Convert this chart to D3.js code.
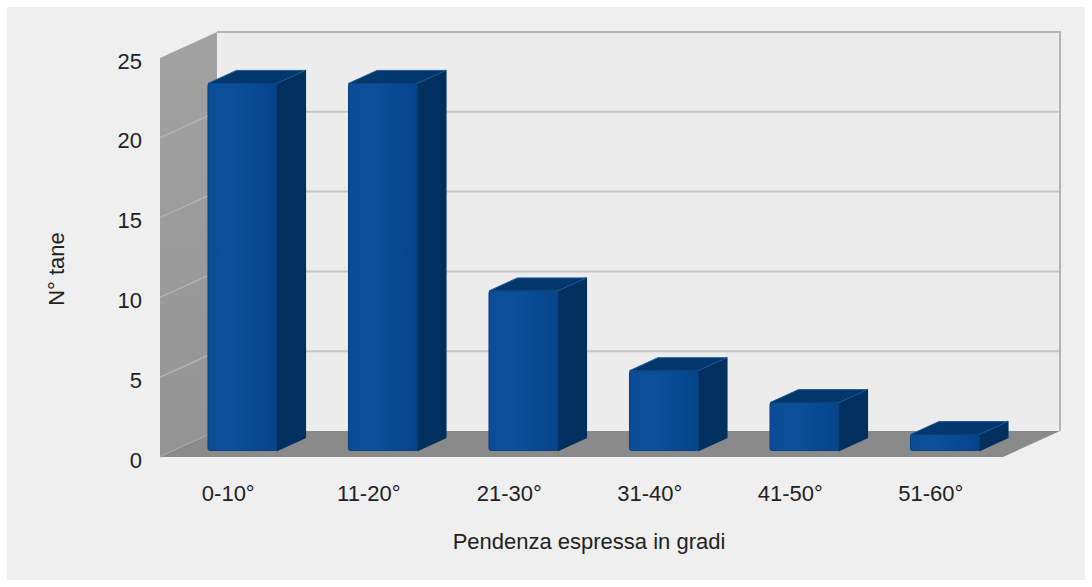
<!DOCTYPE html>
<html>
<head>
<meta charset="utf-8">
<script src="https://cdn.jsdelivr.net/npm/d3@7"></script>
<style>
  html, body { margin: 0; padding: 0; background: #ffffff; }
  svg { display: block; }
  text { font-family: "Liberation Sans", Arial, sans-serif; fill: #222; }
</style>
</head>
<body>
<script>
// Tane per classe di pendenza
const categories = ["0-10°", "11-20°", "21-30°", "31-40°", "41-50°", "51-60°"];
const values = [23, 23, 10, 5, 3, 1];
const yTicks = [0, 5, 10, 15, 20, 25];
const yTitle = "N° tane";
const xTitle = "Pendenza espressa in gradi";

const W = 1092, H = 587;
const svg = d3.select("body").append("svg").attr("width", W).attr("height", H);

// panel background
svg.append("rect").attr("x", 7).attr("y", 7).attr("width", W - 14).attr("height", H - 14)
  .attr("fill", "#efefef");

// front plane scales
const y = d3.scaleLinear().domain([0, 25]).range([457, 58]);
const x = d3.scaleBand().domain(categories).range([160, 1003]);

// oblique depth vector (z = 0 front, z = 1 back wall)
const DX = 57, DY = -26;
const P = (px, v, z) => [px + z * DX, y(v) + z * DY];
const poly = pts => "M" + pts.map(p => p.join(",")).join("L") + "Z";

const defs = svg.append("defs");
const gFront = defs.append("linearGradient").attr("id", "gFront").attr("x1", 0).attr("x2", 1).attr("y1", 0).attr("y2", 0);
gFront.append("stop").attr("offset", "0").attr("stop-color", "#0a4c95");
gFront.append("stop").attr("offset", "0.35").attr("stop-color", "#0b5099");
gFront.append("stop").attr("offset", "1").attr("stop-color", "#05448a");
const gWall = defs.append("linearGradient").attr("id", "gWall").attr("x1", 0).attr("x2", 0).attr("y1", 0).attr("y2", 1);
gWall.append("stop").attr("offset", "0").attr("stop-color", "#a2a2a2");
gWall.append("stop").attr("offset", "1").attr("stop-color", "#939393");

const [x0, x1] = x.range();

// back wall
svg.append("path")
  .attr("d", poly([P(x0, 0, 1), P(x1, 0, 1), P(x1, 25, 1), P(x0, 25, 1)]))
  .attr("fill", "#ececec");
// back wall gridlines
svg.append("g").selectAll("line").data(yTicks.filter(t => t > 0 && t < 25)).join("line")
  .attr("x1", P(x0, 0, 1)[0]).attr("x2", P(x1, 0, 1)[0])
  .attr("y1", d => P(x0, d, 1)[1]).attr("y2", d => P(x0, d, 1)[1])
  .attr("stroke", "#c4c4c4").attr("stroke-width", 2);
// back wall frame (top and right)
svg.append("path")
  .attr("d", "M" + P(x0, 25, 1).join(",") + "L" + P(x1, 25, 1).join(",") + "L" + P(x1, 0, 1).join(","))
  .attr("fill", "none").attr("stroke", "#b4b4b4").attr("stroke-width", 2);

// left wall
svg.append("path")
  .attr("d", poly([P(x0, 0, 0), P(x0, 0, 1), P(x0, 25, 1), P(x0, 25, 0)]))
  .attr("fill", "url(#gWall)");
svg.append("g").selectAll("line").data(yTicks.filter(t => t < 25)).join("line")
  .attr("x1", d => P(x0, d, 0)[0]).attr("y1", d => P(x0, d, 0)[1])
  .attr("x2", d => P(x0, d, 1)[0]).attr("y2", d => P(x0, d, 1)[1])
  .attr("stroke", "#b3b3b3").attr("stroke-width", 1.5);

// floor
svg.append("path")
  .attr("d", poly([P(x0, 0, 0), P(x1, 0, 0), P(x1, 0, 1), P(x0, 0, 1)]))
  .attr("fill", "#8a8a8a");

// bars (3D boxes)
const zf = 0.25, zb = 0.75;
const bw = x.bandwidth() * 0.49, boff = x.bandwidth() * 0.24;
const bars = svg.append("g").selectAll("g").data(categories.map((c, i) => ({ c, v: values[i] }))).join("g");
bars.each(function (d) {
  const g = d3.select(this);
  const l = x(d.c) + boff, r = l + bw;
  // side face
  g.append("path")
    .attr("d", poly([P(r, 0, zf), P(r, 0, zb), P(r, d.v, zb), P(r, d.v, zf)]))
    .attr("fill", "#01305f").attr("stroke", "#01305f").attr("stroke-width", 1.5).attr("stroke-linejoin", "round");
  // top face
  g.append("path")
    .attr("d", poly([P(l, d.v, zf), P(r, d.v, zf), P(r, d.v, zb), P(l, d.v, zb)]))
    .attr("fill", "#02376c").attr("stroke", "#1d5c9e").attr("stroke-width", 1).attr("stroke-linejoin", "round");
  // front face
  const [fx, fy] = P(l, d.v, zf);
  const [, by] = P(l, 0, zf);
  g.append("rect")
    .attr("x", fx).attr("y", fy).attr("width", bw).attr("height", by - fy)
    .attr("rx", 2)
    .attr("fill", "url(#gFront)").attr("stroke", "#0a3f7a").attr("stroke-width", 1);
});

// y axis labels
const yAxis = svg.append("g").attr("transform", "translate(160,3)")
  .call(d3.axisLeft(y).tickValues(yTicks).tickSize(0).tickPadding(18));
yAxis.select(".domain").remove();
yAxis.selectAll("text").attr("font-size", 22).attr("font-family", "Liberation Sans, Arial, sans-serif").attr("fill", "#222");

// x axis labels
const xAxis = svg.append("g").attr("transform", "translate(-2,457)")
  .call(d3.axisBottom(x).tickSize(0).tickPadding(28));
xAxis.select(".domain").remove();
xAxis.selectAll("text").attr("font-size", 22).attr("font-family", "Liberation Sans, Arial, sans-serif").attr("fill", "#222");

// axis titles
svg.append("text").attr("x", 589).attr("y", 549).attr("text-anchor", "middle")
  .attr("font-size", 22).text(xTitle);
svg.append("text").attr("transform", "translate(64,269) rotate(-90)").attr("text-anchor", "middle")
  .attr("font-size", 22).text(yTitle);
</script>
</body>
</html>
